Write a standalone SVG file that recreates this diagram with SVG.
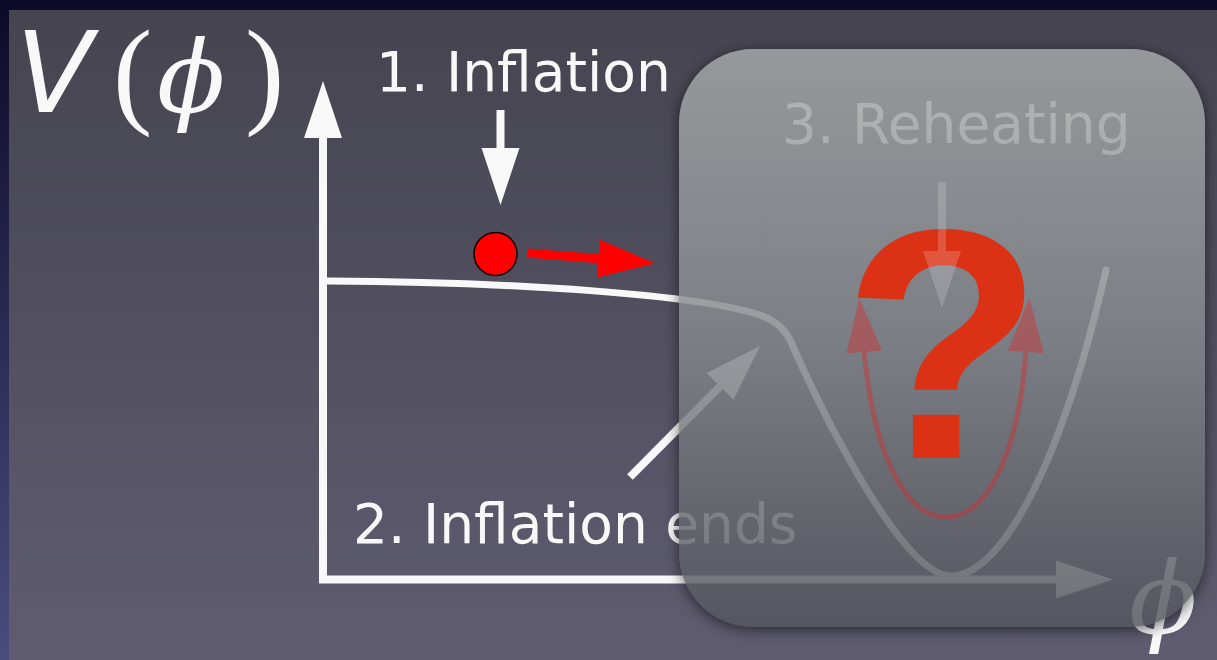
<svg xmlns="http://www.w3.org/2000/svg" width="1217" height="660" viewBox="0 0 1217 660">
  <defs>
    <linearGradient id="outer" x1="0" y1="0" x2="0" y2="1">
      <stop offset="0" stop-color="#0b0a28"/>
      <stop offset="1" stop-color="#4a4c7e"/>
    </linearGradient>
    <linearGradient id="panel" x1="0" y1="0" x2="0" y2="1">
      <stop offset="0" stop-color="#45444f"/>
      <stop offset="1" stop-color="#5f5c71"/>
    </linearGradient>
    <linearGradient id="glass" x1="0" y1="0" x2="0" y2="1">
      <stop offset="0" stop-color="#a6aaaa"/>
      <stop offset="0.5" stop-color="#84888c"/>
      <stop offset="1" stop-color="#53555c"/>
    </linearGradient>
    <filter id="blur" x="-10%" y="-10%" width="120%" height="120%">
      <feGaussianBlur stdDeviation="7"/>
    </filter>
    <mask id="outside" maskUnits="userSpaceOnUse" x="0" y="0" width="1217" height="660">
      <rect x="0" y="0" width="1217" height="660" fill="#fff"/>
      <rect x="679" y="49" width="526" height="578" rx="74" fill="#000"/>
    </mask>
    <marker id="ahWhite" markerUnits="userSpaceOnUse" markerWidth="60" markerHeight="40" viewBox="0 -20 60 40" refX="2" refY="0" orient="auto">
      <path d="M0,-19 L57,0 L0,19 Z" fill="#f8f8f8"/>
    </marker>
    <marker id="ahRed" markerUnits="userSpaceOnUse" markerWidth="60" markerHeight="40" viewBox="0 -20 60 40" refX="2" refY="0" orient="auto">
      <path d="M0,-19 L57,0 L0,19 Z" fill="#ff0000"/>
    </marker>
    <marker id="ahU" markerUnits="userSpaceOnUse" markerWidth="56" markerHeight="40" viewBox="0 -20 56 40" refX="2" refY="0" orient="auto-start-reverse">
      <path d="M0,-18 L54,0 L0,18 Z" fill="#dc2828"/>
    </marker>
    <style>
      .lbl { font-family: "DejaVu Sans", "Liberation Sans", sans-serif; font-size: 55px; fill: #f8f8f8; }
      .ax { stroke: #f8f8f8; stroke-width: 8; fill: none; }
      .curve { stroke: #f8f8f8; stroke-width: 7; fill: none; stroke-linecap: round; }
      .math { font-family: "Liberation Serif", "DejaVu Serif", serif; fill: #f8f8f8; }
      .phi { font-family: "DejaVu Serif", "Liberation Serif", serif; font-style: italic; font-size: 100px; fill: #f8f8f8; }
    </style>
  </defs>

  <g id="background">
    <rect x="0" y="0" width="1217" height="660" fill="url(#outer)"/>
    <rect x="9" y="10" width="1208" height="650" fill="url(#panel)"/>
  </g>

  <g id="axis-label">
    <text class="math" y="112" font-size="110"><tspan x="16" font-family="DejaVu Sans, sans-serif" font-style="italic" font-size="112">V</tspan><tspan x="113" font-size="118">(</tspan><tspan class="phi" x="157">ϕ</tspan><tspan x="245" font-size="118">)</tspan></text>
  </g>

  <g id="phi-label">
    <text class="phi" x="1129" y="633">ϕ</text>
  </g>

  <g id="connectors">
    <path class="ax" d="M323,583 L323,136" marker-end="url(#ahWhite)"/>
    <path class="ax" d="M319,579.5 L1058,579.5" marker-end="url(#ahWhite)"/>
    <path class="ax" d="M500.5,110 L500.5,150" marker-end="url(#ahWhite)"/>
    <path class="ax" d="M630,477 L721.3,385.1" marker-end="url(#ahWhite)"/>
    <path d="M527,253 L600.2,258.8" stroke="#ff0000" stroke-width="9" fill="none" marker-end="url(#ahRed)"/>
  </g>

  <g id="potential">
    <path class="curve" d="M328,281 C520,282 700,295 760,315 C778,322 785,330 790,340 C830,430 905,576 951,576 C1000,576 1060,470 1106,270"/>
  </g>

  <g id="ball">
    <circle cx="495.5" cy="254" r="21.5" fill="#ff0000" stroke="#1a0000" stroke-width="1.6"/>
  </g>

  <g id="label-inflation">
    <text class="lbl" x="376" y="91">1. Inflation</text>
  </g>
  <g id="label-ends">
    <text class="lbl" x="353" y="543">2. Inflation ends</text>
  </g>
  <g id="label-reheating">
    <text class="lbl" x="782" y="143">3. Reheating</text>
  </g>

  <g id="overlay">
    <rect x="679" y="52" width="526" height="578" rx="74" fill="#000" opacity="0.55" filter="url(#blur)" mask="url(#outside)"/>
    <rect x="679" y="49" width="526" height="578" rx="74" fill="url(#glass)" fill-opacity="0.83"/>
  </g>

  <g id="oscillation" opacity="0.4">
    <path d="M864,350 C872,440 900,517 946,517 C992,517 1020,440 1026,350" stroke="#dc2828" stroke-width="5" fill="none" marker-start="url(#ahU)" marker-end="url(#ahU)"/>
  </g>

  <g id="question">
    <text x="943" y="458" text-anchor="middle" font-family="Liberation Sans, Arial, sans-serif" font-weight="bold" font-size="328" fill="#db3216">?</text>
  </g>

  <g id="reheating-arrow" opacity="0.18">
    <path class="ax" d="M942,182 L942,253" marker-end="url(#ahWhite)"/>
  </g>
</svg>
